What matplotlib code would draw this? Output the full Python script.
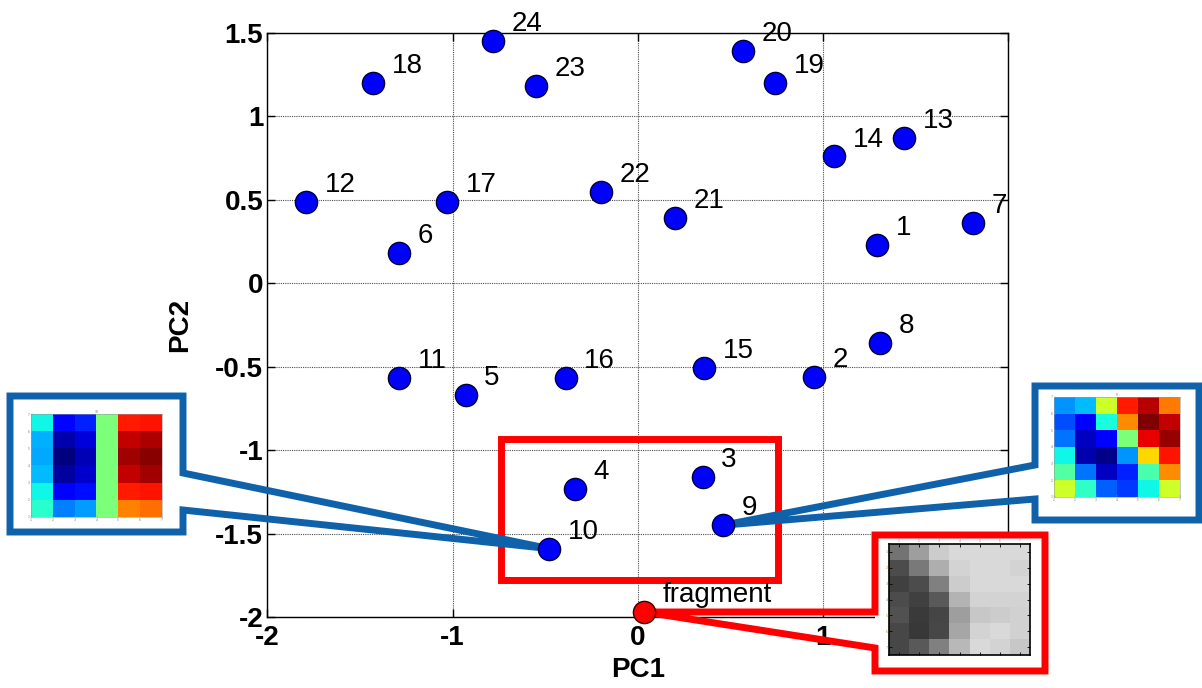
import matplotlib.pyplot as plt
from matplotlib.lines import Line2D
from matplotlib.patches import Rectangle

plt.rcParams['font.family'] = ['Liberation Sans', 'DejaVu Sans']

# PCA scores of the 24 reference patches
pc1 = [1.29, 0.95, 0.35, -0.34, -0.93, -1.29, 1.81, 1.31, 0.46, -0.48, -1.29, -1.79,
       1.44, 1.06, 0.36, -0.39, -1.03, -1.43, 0.74, 0.57, 0.20, -0.20, -0.55, -0.78]
pc2 = [0.23, -0.56, -1.16, -1.23, -0.67, 0.18, 0.36, -0.36, -1.45, -1.59, -0.57, 0.49,
       0.87, 0.76, -0.51, -0.57, 0.49, 1.20, 1.20, 1.39, 0.39, 0.55, 1.18, 1.45]
names = [str(i) for i in range(1, 25)]

frag_pc1 = 0.035
frag_pc2 = -1.97

# patch images shown in the call-outs (jet colormap values / gray levels)
patch_10 = [[0.37, 0.13, 0.16, 0.50, 0.88, 0.89],
            [0.30, 0.04, 0.08, 0.50, 0.94, 0.96],
            [0.29, 0.00, 0.05, 0.50, 0.97, 0.99],
            [0.31, 0.03, 0.07, 0.50, 0.94, 0.97],
            [0.37, 0.12, 0.14, 0.50, 0.88, 0.89],
            [0.40, 0.25, 0.28, 0.50, 0.77, 0.79]]
patch_9 = [[0.27, 0.31, 0.60, 0.88, 0.95, 0.78],
           [0.20, 0.12, 0.38, 0.76, 1.00, 0.94],
           [0.24, 0.06, 0.12, 0.50, 0.91, 0.98],
           [0.37, 0.04, 0.01, 0.27, 0.68, 0.89],
           [0.45, 0.24, 0.06, 0.16, 0.44, 0.76],
           [0.60, 0.41, 0.22, 0.18, 0.37, 0.60]]
patch_frag = [[0.45, 0.62, 0.80, 0.85, 0.85, 0.85, 0.85],
              [0.30, 0.48, 0.68, 0.83, 0.85, 0.85, 0.83],
              [0.25, 0.30, 0.50, 0.80, 0.85, 0.85, 0.85],
              [0.30, 0.25, 0.35, 0.70, 0.83, 0.83, 0.83],
              [0.32, 0.23, 0.27, 0.62, 0.78, 0.80, 0.82],
              [0.28, 0.22, 0.28, 0.65, 0.83, 0.85, 0.82],
              [0.28, 0.35, 0.50, 0.72, 0.85, 0.83, 0.78]]

xticks = [-2, -1, 0, 1, 2]
yticks = [-2, -1.5, -1, -0.5, 0, 0.5, 1, 1.5]
xtick_labels = ['-2', '-1', '0', '1', '2']
ytick_labels = ['-2', '-1.5', '-1', '-0.5', '0', '0.5', '1', '1.5']

W, H = 1202, 688
fig = plt.figure(figsize=(W / 100, H / 100), dpi=100)
ax = fig.add_axes([267.4 / W, 71 / H, 740.7 / W, 584 / H])
ax.set_xlim(-2, 2)
ax.set_ylim(-2, 1.5)

ax.set_xticks(xticks)
ax.set_xticklabels(xtick_labels, fontweight='bold')
ax.set_yticks(yticks)
ax.set_yticklabels(ytick_labels, fontweight='bold')
ax.tick_params(direction='in', top=True, right=True, length=6, width=1, labelsize=20)
ax.tick_params(axis='x', pad=6)
ax.tick_params(axis='y', pad=3)
ax.grid(True, linestyle=(0, (1, 1)), color='0.3', linewidth=0.8)
for s in ax.spines.values():
    s.set_linewidth(1.0)

ax.set_xlabel('PC1', fontsize=20, fontweight='bold')
ax.set_ylabel('PC2', fontsize=20, fontweight='bold')
ax.xaxis.set_label_coords(0.5, -0.068)
ax.yaxis.set_label_coords(-0.1, 0.5)

# labels may rise above the frame but are cut at its right edge
label_clip = Rectangle((0, 0), ax.get_position().x1, 1, transform=fig.transFigure)

ax.plot(pc1, pc2, 'o', ms=16, mfc='#0000ff', mec='#000033', mew=1, zorder=3, clip_on=False)
for x, y, n in zip(pc1, pc2, names):
    t = ax.annotate(n, (x, y), xytext=(13.5, 12.2), textcoords='offset points',
                    fontsize=20, ha='left', va='center', zorder=3)
    t.set_clip_path(label_clip)

ax.plot([frag_pc1], [frag_pc2], 'o', ms=16, mfc='#ff0000', mec='#330000', mew=1,
        zorder=3, clip_on=False)
ax.annotate('fragment', (frag_pc1, frag_pc2), xytext=(13.5, 12.2), textcoords='offset points',
            fontsize=20, ha='left', va='center', zorder=3)

# red selection rectangle around the nearest neighbours
ax.add_patch(Rectangle((-0.74, -1.776), 1.495, 0.84, fill=False, ec='#ff0000', lw=5,
                       joinstyle='miter', zorder=2.6))


def fpx(x, y):
    return x / W, 1 - y / H


def fdata(x, y):
    return fig.transFigure.inverted().transform(ax.transData.transform((x, y)))


def callout(anchor, path, box, color):
    p = fdata(*anchor)
    pts = [tuple(p)] + [fpx(*q) for q in path] + [tuple(p)]
    x0, y0, x1, y1 = box
    ax.add_patch(Rectangle((x0 / W, 1 - y1 / H), (x1 - x0) / W, (y1 - y0) / H,
                           transform=fig.transFigure, fc='white', ec='none',
                           clip_on=False, zorder=2.55))
    ax.add_line(Line2D([q[0] for q in pts], [q[1] for q in pts], transform=fig.transFigure,
                       color=color, lw=5, clip_on=False, zorder=2.6,
                       solid_joinstyle='miter'))


blue = '#0f62aa'
callout((pc1[9], pc2[9]),
        [(183, 473), (183, 396), (10, 396), (10, 532), (183, 532), (183, 510)],
        (10, 396, 183, 532), blue)
callout((pc1[8], pc2[8]),
        [(1035, 465), (1035, 386), (1199, 386), (1199, 520), (1035, 520), (1035, 499)],
        (1035, 386, 1199, 520), blue)
callout((frag_pc1, frag_pc2),
        [(875, 612), (875, 535), (1045, 535), (1045, 671), (875, 671), (875, 648)],
        (875, 535, 1045, 671), '#ff0000')


def inset(rect, data, cmap, title, dark):
    x0, y0, x1, y1 = rect
    a = fig.add_axes([x0 / W, 1 - y1 / H, (x1 - x0) / W, (y1 - y0) / H])
    n = len(data[0])
    m = len(data)
    if dark:
        a.imshow(data, cmap=cmap, vmin=0, vmax=1, aspect='auto', interpolation='nearest',
                 extent=(0.5, n + 0.5, m + 0.5, 0.5))
        a.set_xticks(range(1, n + 1))
        a.set_yticks(range(1, m + 1))
        a.tick_params(direction='in', top=True, right=True, labeltop=True, labelbottom=False,
                      length=2, width=0.6, labelsize=2.5, labelcolor='#c08040', pad=1)
        for s in a.spines.values():
            s.set_linewidth(1.2)
    else:
        a.imshow(data, cmap=cmap, vmin=0, vmax=1, aspect='auto', interpolation='nearest',
                 extent=(1, n + 1, 1, m + 1))
        a.set_xticks(range(1, n + 2))
        a.set_yticks(range(1, m + 2))
        a.tick_params(direction='in', length=1.5, width=0.3, labelsize=2.5,
                      labelcolor='0.5', color='0.6', pad=1)
        a.set_title(title, fontsize=2.5, color='0.5', pad=1)
        for s in a.spines.values():
            s.set_linewidth(0.4)
            s.set_color('0.6')
    return a


inset((31, 414, 162, 517), patch_10, 'jet', '10', False)
inset((1054, 397, 1180, 497), patch_9, 'jet', '9', False)
inset((889, 544, 1030, 655), patch_frag, 'gray', '', True)

fig.savefig('out.png', dpi=100)
